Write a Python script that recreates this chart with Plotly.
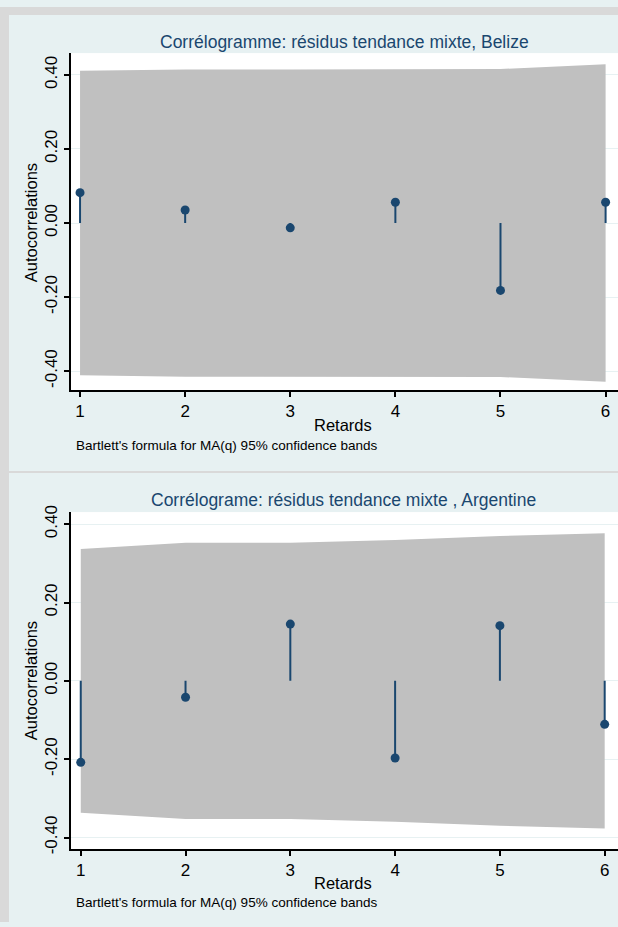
import plotly.graph_objects as go

W, H = 618, 927

# ---------------- data ----------------
lags = [1, 2, 3, 4, 5, 6]
lag_labels = ["1", "2", "3", "4", "5", "6"]

belize_acf = [0.082, 0.035, -0.013, 0.056, -0.182, 0.056]
belize_band = [0.411, 0.415, 0.415, 0.415, 0.416, 0.429]

argentine_acf = [-0.208, -0.042, 0.145, -0.197, 0.141, -0.111]
argentine_band = [0.337, 0.353, 0.353, 0.360, 0.370, 0.377]

ytick_vals = [-0.4, -0.2, 0.0, 0.2, 0.4]
ytick_text = ["-0.40", "-0.20", "0.00", "0.20", "0.40"]

title_belize = "Corrélogramme: résidus tendance mixte, Belize"
title_argentine = "Corrélograme: résidus tendance mixte , Argentine"
ytitle = "Autocorrelations"
xtitle = "Retards"
note = "Bartlett's formula for MA(q) 95% confidence bands"

# ---------------- style ----------------
FONT = "Liberation Sans, Arial, Helvetica, sans-serif"
NAVY = "#1a476f"
BAND = "#c0c0c0"
PANEL = "#e7f1f2"
OUTER = "#d9d9d9"


def px(x):
    return x / W


def py(y):
    return 1 - y / H


fig = go.Figure()


def add_panel(acf, band, xa, ya):
    upper = list(band)
    lower = [-b for b in band]
    fig.add_trace(go.Scatter(
        x=lags + lags[::-1], y=upper + lower[::-1],
        fill="toself", fillcolor=BAND, line=dict(width=0),
        mode="lines", hoverinfo="skip", showlegend=False,
        xaxis=xa, yaxis=ya))
    sx, sy = [], []
    for l, v in zip(lags, acf):
        sx += [l, l, None]
        sy += [0, v, None]
    fig.add_trace(go.Scatter(
        x=sx, y=sy, mode="lines", line=dict(color=NAVY, width=2),
        showlegend=False, hoverinfo="skip", xaxis=xa, yaxis=ya))
    fig.add_trace(go.Scatter(
        x=lags, y=acf, mode="markers", cliponaxis=False,
        marker=dict(color=NAVY, size=9, line=dict(width=0)),
        showlegend=False, xaxis=xa, yaxis=ya))


add_panel(belize_acf, belize_band, "x", "y")
add_panel(argentine_acf, argentine_band, "x2", "y2")

xcommon = dict(
    tickvals=lags, ticktext=lag_labels, ticks="outside", ticklen=5,
    tickwidth=1.5, tickcolor="black", showline=True, linecolor="black",
    linewidth=1.5, showgrid=False, zeroline=False,
    tickfont=dict(family=FONT, size=17, color="black"), fixedrange=True)
ycommon = dict(
    tickvals=ytick_vals, ticktext=ytick_text, tickangle=-90,
    ticks="outside", ticklen=5, tickwidth=1.5, tickcolor="black",
    showline=True, linecolor="black", linewidth=1.5,
    showgrid=True, gridcolor=PANEL, gridwidth=1, zeroline=False,
    tickfont=dict(family=FONT, size=17, color="black"), fixedrange=True)

fig.update_layout(
    width=W, height=H, autosize=False,
    margin=dict(l=0, r=0, t=0, b=0),
    paper_bgcolor=PANEL, plot_bgcolor="white",
    showlegend=False,
    xaxis=dict(domain=[px(71), 1], range=[0.914, 6.118], anchor="y", **xcommon),
    yaxis=dict(domain=[py(388), py(46.7)], range=[-0.451, 0.459], anchor="x", **ycommon),
    xaxis2=dict(domain=[px(71), 1], range=[0.907, 6.127], anchor="y2", **xcommon),
    yaxis2=dict(domain=[py(853.3), py(511.7)], range=[-0.430, 0.431], anchor="x2", **ycommon),
)

# outer grey frame pieces
fig.add_shape(type="rect", xref="paper", yref="paper", x0=0, x1=px(9), y0=0, y1=1,
              fillcolor=OUTER, line=dict(width=0), layer="below")
fig.add_shape(type="rect", xref="paper", yref="paper", x0=0, x1=1, y0=py(8), y1=1,
              fillcolor=OUTER, line=dict(width=0), layer="below")
fig.add_shape(type="rect", xref="paper", yref="paper", x0=px(9), x1=1, y0=py(472), y1=py(470),
              fillcolor=OUTER, line=dict(width=0), layer="below")


def ann(text, x, y, size, color="black", xanchor="center", angle=0):
    fig.add_annotation(text=text, x=px(x), y=py(y), xref="paper", yref="paper",
                       showarrow=False, xanchor=xanchor, yanchor="middle",
                       textangle=angle, font=dict(family=FONT, size=size, color=color))


# panel 1
ann(title_belize, 344, 35, 17.5, NAVY)
ann(ytitle, 31, 219, 16.5, angle=-90)
ann(xtitle, 343, 423, 16.5)
ann(note, 73.5, 444, 13.5, xanchor="left")
# panel 2
ann(title_argentine, 343, 499, 17.5, NAVY)
ann(ytitle, 31, 683, 16.5, angle=-90)
ann(xtitle, 343, 887, 16.5)
ann(note, 73.5, 907.5, 13.5, xanchor="left")

fig.write_html(
    "out.html",
    config={"displayModeBar": False},
    post_script="document.body.style.margin='0';document.body.style.overflow='hidden';",
)
